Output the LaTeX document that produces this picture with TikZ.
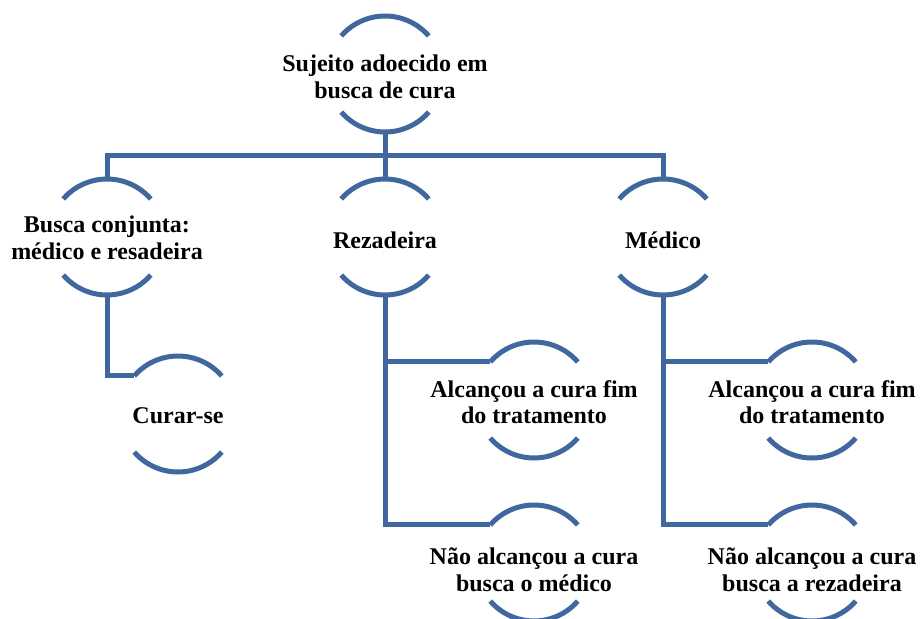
\documentclass[tikz,border=0pt]{standalone}
\usepackage{fontspec}
\setmainfont{Liberation Serif}
\definecolor{lineblue}{RGB}{64,104,158}
\tikzset{
  lbl/.style={font=\bfseries\fontsize{24}{26.5}\selectfont, align=center, text=black, inner sep=0pt},
  ln/.style={draw=lineblue, line width=5pt},
  conn/.style={draw=lineblue, line width=5pt, line join=miter}
}
\newcommand{\caps}[1]{%
  \draw[ln] ([shift={(41:58)}]#1) arc[start angle=41,end angle=139,radius=58];
  \draw[ln] ([shift={(-139:58)}]#1) arc[start angle=-139,end angle=-41,radius=58];
}
\begin{document}
\begin{tikzpicture}[x=1pt,y=1pt]
\useasboundingbox (0,0) rectangle (920,-618);
\clip (0,0) rectangle (920,-618);
% centres
\coordinate (cT) at (385,-74);
\coordinate (cB) at (107,-237);
\coordinate (cR) at (385,-237);
\coordinate (cM) at (663,-237);
\coordinate (cC) at (178,-414);
\coordinate (cR1) at (534,-400);
\coordinate (cR2) at (534,-563);
\coordinate (cM1) at (812,-400);
\coordinate (cM2) at (812,-563);
% labels
\node[lbl] (T) at (385,-77) {Sujeito adoecido em\\busca de cura};
\node[lbl] (B) at (107,-238) {Busca conjunta:\\médico e resadeira};
\node[lbl] (R) at (385,-240) {Rezadeira};
\node[lbl] (M) at (663,-240) {Médico};
\node[lbl] (C) at (178,-416) {Curar-se};
\node[lbl] (R1) at (534,-402) {Alcançou a cura fim\\do tratamento};
\node[lbl] (R2) at (534,-570) {Não alcançou a cura\\busca o médico};
\node[lbl] (M1) at (812,-402) {Alcançou a cura fim\\do tratamento};
\node[lbl] (M2) at (812,-570) {Não alcançou a cura\\busca a rezadeira};
% arcs
\caps{cT}\caps{cB}\caps{cR}\caps{cM}\caps{cC}
\caps{cR1}\caps{cR2}\caps{cM1}\caps{cM2}
% connectors
\coordinate (bus) at (385,-155);
\draw[conn] ([yshift=-58]cT) -- (bus);
\draw[conn] ([yshift=58]cB) |- (bus) -| ([yshift=58]cM);
\draw[conn] (bus) -- ([yshift=58]cR);
\draw[conn] ([yshift=-58]cB) |- ([shift={(139:58)}]cC);
\draw[conn] ([yshift=-58]cR) |- ([shift={(139:58)}]cR1);
\draw[conn] ([yshift=-58]cR) |- ([shift={(139:58)}]cR2);
\draw[conn] ([yshift=-58]cM) |- ([shift={(139:58)}]cM1);
\draw[conn] ([yshift=-58]cM) |- ([shift={(139:58)}]cM2);
\end{tikzpicture}
\end{document}
